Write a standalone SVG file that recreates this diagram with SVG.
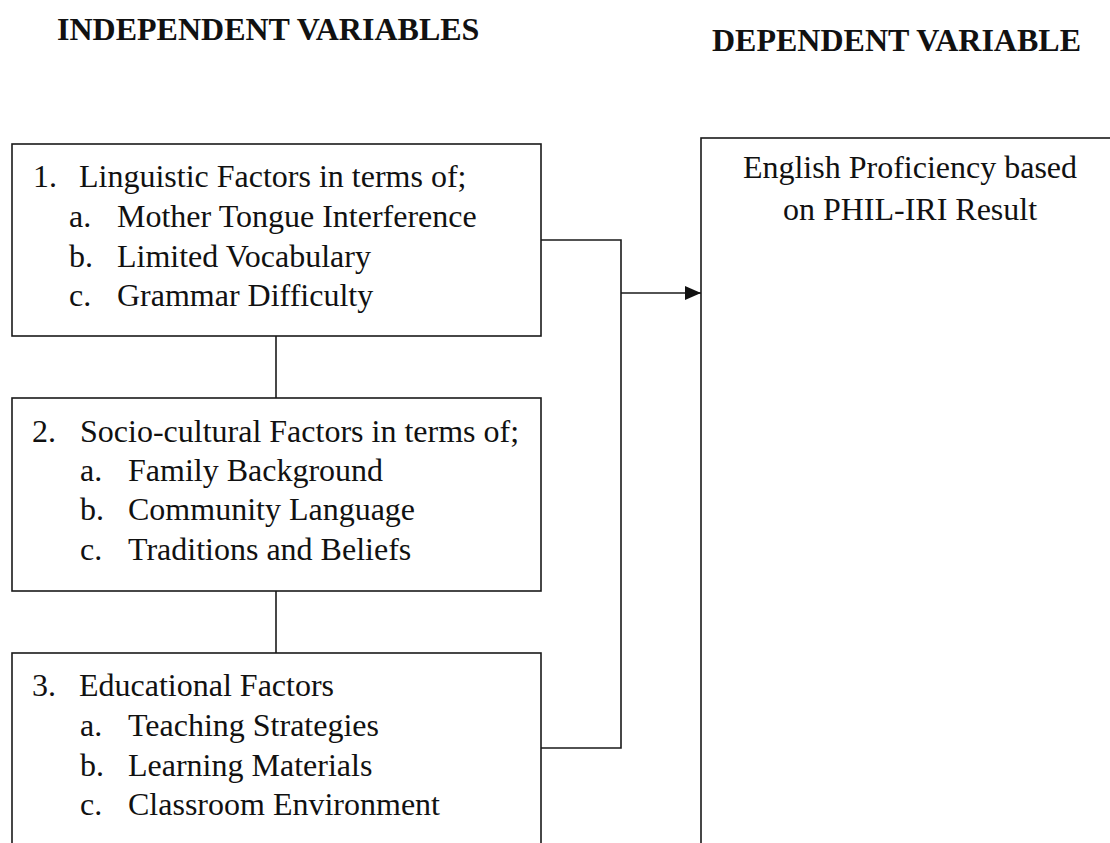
<svg xmlns="http://www.w3.org/2000/svg" width="1110" height="843" viewBox="0 0 1110 843">
<style>
  .box { fill: #ffffff; stroke: #1a1a1a; stroke-width: 1.6; }
  .t { font-family: "Liberation Serif", "Times New Roman", serif; font-size: 32px; fill: #111111; }
  .title { font-family: "Liberation Serif", "Times New Roman", serif; font-size: 32px; font-weight: bold; fill: #111111; }
  .conn { fill: none; stroke: #1a1a1a; stroke-width: 1.6; }
</style>
<defs>
  <marker id="arrow" viewBox="0 0 16 14" refX="16" refY="7" markerWidth="16" markerHeight="14" markerUnits="userSpaceOnUse" orient="auto">
    <path d="M0,0 L16,7 L0,14 Z" fill="#111111"/>
  </marker>
</defs>
<rect width="1110" height="843" fill="#ffffff"/>

<g id="title-independent">
  <text class="title" x="57" y="40">INDEPENDENT VARIABLES</text>
</g>
<g id="title-dependent">
  <text class="title" x="712" y="51">DEPENDENT VARIABLE</text>
</g>

<g id="connectors">
  <line class="conn" x1="276" y1="336" x2="276" y2="398"/>
  <line class="conn" x1="276" y1="591" x2="276" y2="653"/>
  <polyline class="conn" points="541,240 621,240 621,748 541,748"/>
  <line class="conn" x1="621" y1="293" x2="701" y2="293" marker-end="url(#arrow)"/>
</g>

<g id="node-linguistic">
  <rect class="box" x="12" y="144" width="529" height="192"/>
  <text class="t" x="33" y="187">1.</text>
  <text class="t" x="79" y="187">Linguistic Factors in terms of;</text>
  <text class="t" x="69" y="227">a.</text>
  <text class="t" x="117" y="227">Mother Tongue Interference</text>
  <text class="t" x="69" y="267">b.</text>
  <text class="t" x="117" y="267">Limited Vocabulary</text>
  <text class="t" x="69" y="306">c.</text>
  <text class="t" x="117" y="306">Grammar Difficulty</text>
</g>

<g id="node-sociocultural">
  <rect class="box" x="12" y="398" width="529" height="193"/>
  <text class="t" x="32" y="442">2.</text>
  <text class="t" x="80" y="442">Socio-cultural Factors in terms of;</text>
  <text class="t" x="80" y="481">a.</text>
  <text class="t" x="128" y="481">Family Background</text>
  <text class="t" x="80" y="520">b.</text>
  <text class="t" x="128" y="520">Community Language</text>
  <text class="t" x="80" y="560">c.</text>
  <text class="t" x="128" y="560">Traditions and Beliefs</text>
</g>

<g id="node-educational">
  <rect class="box" x="12" y="653" width="529" height="220"/>
  <text class="t" x="32" y="696">3.</text>
  <text class="t" x="79" y="696">Educational Factors</text>
  <text class="t" x="80" y="736">a.</text>
  <text class="t" x="128" y="736">Teaching Strategies</text>
  <text class="t" x="80" y="776">b.</text>
  <text class="t" x="128" y="776">Learning Materials</text>
  <text class="t" x="80" y="815">c.</text>
  <text class="t" x="128" y="815">Classroom Environment</text>
</g>

<g id="node-english-proficiency">
  <rect class="box" x="701" y="138" width="420" height="740"/>
  <text class="t" x="910" y="178" text-anchor="middle">English Proficiency based</text>
  <text class="t" x="910" y="220" text-anchor="middle">on PHIL-IRI Result</text>
</g>
</svg>
